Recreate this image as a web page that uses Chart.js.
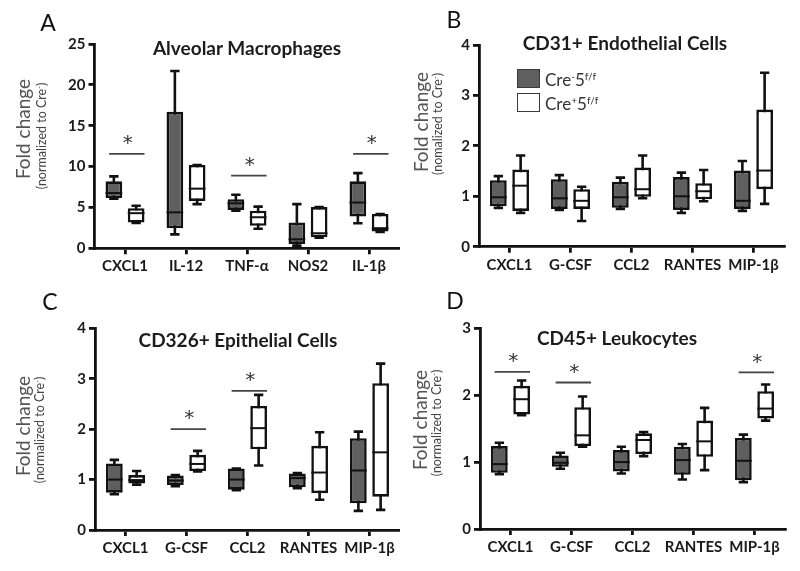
<!DOCTYPE html>
<html>
<head>
<meta charset="utf-8">
<script src="https://cdn.jsdelivr.net/npm/chart.js@4/dist/chart.umd.min.js"></script>
<style>
  body { margin: 0; background: #fff; font-family: Lato, "Open Sans", sans-serif; }
  #fig { position: relative; width: 800px; height: 571px; overflow: hidden; }
  canvas { position: absolute; }
  .t { position: absolute; transform: translate(-50%, -50%); white-space: nowrap; line-height: 1; }
  .letter { font-size: 23px; color: #111; }
  .title { font-size: 19px; font-weight: bold; color: #1c1c1c; }
  .ylab { position: absolute; transform: translate(-50%, -50%) rotate(-90deg); white-space: nowrap; line-height: 1; color: #555; }
  .ylab.big { font-size: 19px; }
  .ylab.small { font-size: 12.5px; color: #444; }
  sup { font-size: 0.6em; vertical-align: 0.55em; line-height: 0; }
  .sw { position: absolute; width: 21px; height: 17px; border: 1.5px solid #3a3a3a; }
  .leg { position: absolute; font-size: 17px; color: #333; line-height: 1; white-space: nowrap; }
</style>
</head>
<body>
<div id="fig">
  <canvas id="chartA" width="400" height="286" style="left:0;top:0"></canvas>
  <canvas id="chartB" width="400" height="286" style="left:400px;top:0"></canvas>
  <canvas id="chartC" width="400" height="286" style="left:0;top:285px"></canvas>
  <canvas id="chartD" width="400" height="286" style="left:400px;top:285px"></canvas>

  <div class="t letter" style="left:48px;top:22px">A</div>
  <div class="t letter" style="left:454px;top:19px">B</div>
  <div class="t letter" style="left:50px;top:301px">C</div>
  <div class="t letter" style="left:455px;top:300px">D</div>

  <div class="t title" style="left:247px;top:47px">Alveolar Macrophages</div>
  <div class="t title" style="left:625px;top:42px">CD31+ Endothelial Cells</div>
  <div class="t title" style="left:238px;top:339px">CD326+ Epithelial Cells</div>
  <div class="t title" style="left:617px;top:337px">CD45+ Leukocytes</div>

  <div class="ylab big" style="left:22px;top:129px">Fold change</div>
  <div class="ylab small" style="left:42px;top:136px">(normalized to Cre<sup>-</sup>)</div>
  <div class="ylab big" style="left:420px;top:122px">Fold change</div>
  <div class="ylab small" style="left:438px;top:124px">(nomalized to Cre<sup>-</sup>)</div>
  <div class="ylab big" style="left:22px;top:426px">Fold change</div>
  <div class="ylab small" style="left:40px;top:430px">(normalized to Cre<sup>-</sup>)</div>
  <div class="ylab big" style="left:419px;top:420px">Fold change</div>
  <div class="ylab small" style="left:437px;top:423px">(normalized to Cre<sup>-</sup>)</div>

  <div class="sw" style="left:517px;top:69px;background:#5f5f5f"></div>
  <div class="leg" style="left:545px;top:71px">Cre<sup>-</sup>5<sup>f/f</sup></div>
  <div class="sw" style="left:517px;top:93px;background:#fff"></div>
  <div class="leg" style="left:545px;top:95px">Cre<sup>+</sup>5<sup>f/f</sup></div>
</div>

<script>
const catsA = ['CXCL1', 'IL-12', 'TNF-\u03b1', 'NOS2', 'IL-1\u03b2'];
const catsBCD = ['CXCL1', 'G-CSF', 'CCL2', 'RANTES', 'MIP-1\u03b2'];

// each row: [min, q1, median, q3, max]
const aNeg = [[6.07, 6.15, 6.76, 8.2, 8.8], [1.7, 2.46, 4.4, 16.7, 21.7], [4.6, 4.7, 5.5, 6.0, 6.55], [0.33, 0.53, 1.1, 3.15, 5.4], [3.07, 3.9, 5.6, 8.2, 9.2]];
const aPos = [[3.1, 3.15, 4.3, 4.9, 5.2], [5.4, 5.8, 7.3, 10.2, 10.2], [2.4, 2.75, 3.8, 4.6, 5.1], [1.3, 1.35, 1.84, 5.04, 5.04], [2.0, 2.05, 2.46, 4.2, 4.2]];

const bNeg = [[0.77, 0.8, 0.98, 1.32, 1.4], [0.73, 0.75, 0.96, 1.34, 1.42], [0.75, 0.77, 0.98, 1.29, 1.37], [0.67, 0.73, 1.0, 1.38, 1.47], [0.71, 0.75, 0.91, 1.51, 1.7]];
const bPos = [[0.67, 0.71, 1.21, 1.53, 1.81], [0.51, 0.75, 0.91, 1.14, 1.19], [0.96, 0.99, 1.14, 1.57, 1.81], [0.9, 0.94, 1.1, 1.26, 1.52], [0.85, 1.14, 1.51, 2.72, 3.45]];

const cNeg = [[0.71, 0.74, 1.0, 1.32, 1.39], [0.87, 0.89, 0.98, 1.08, 1.09], [0.79, 0.8, 1.0, 1.22, 1.22], [0.83, 0.85, 1.03, 1.12, 1.13], [0.38, 0.53, 1.18, 1.82, 1.95]];
const cPos = [[0.9, 0.92, 0.99, 1.09, 1.17], [1.16, 1.17, 1.31, 1.49, 1.57], [1.28, 1.6, 2.02, 2.46, 2.68], [0.6, 0.73, 1.14, 1.67, 1.94], [0.4, 0.66, 1.54, 2.91, 3.3]];

const dNeg = [[0.82, 0.84, 0.97, 1.24, 1.29], [0.9, 0.93, 0.99, 1.1, 1.14], [0.83, 0.86, 1.0, 1.18, 1.23], [0.74, 0.81, 1.03, 1.23, 1.27], [0.7, 0.73, 1.02, 1.36, 1.41]];
const dPos = [[1.7, 1.71, 1.94, 2.14, 2.22], [1.23, 1.24, 1.4, 1.82, 1.98], [1.09, 1.12, 1.33, 1.43, 1.45], [0.88, 1.08, 1.31, 1.62, 1.81], [1.62, 1.65, 1.8, 2.06, 2.16]];

// significance bars: [category index, bar level]
const sigA = [[0, 11.55], [2, 8.9], [4, 11.55]];
const sigB = [];
const sigC = [[1, 2.0], [2, 2.76]];
const sigD = [[0, 2.35], [1, 2.19], [4, 2.34]];

const INK = '#111';

// whiskers go under the boxes, medians on top
const boxWhisker = {
  id: 'boxWhisker',
  beforeDatasetsDraw(chart) {
    const ctx = chart.ctx, y = chart.scales.y;
    ctx.save();
    ctx.strokeStyle = INK;
    ctx.lineWidth = 2.6;
    chart.data.datasets.forEach((ds, i) => {
      chart.getDatasetMeta(i).data.forEach((bar, j) => {
        const s = ds.stats[j];
        const cap = bar.width * 0.28;
        const yMin = y.getPixelForValue(s[0]), yMax = y.getPixelForValue(s[4]);
        ctx.beginPath();
        ctx.moveTo(bar.x, yMin); ctx.lineTo(bar.x, yMax);
        ctx.moveTo(bar.x - cap, yMin); ctx.lineTo(bar.x + cap, yMin);
        ctx.moveTo(bar.x - cap, yMax); ctx.lineTo(bar.x + cap, yMax);
        ctx.stroke();
      });
    });
    ctx.restore();
  },
  afterDatasetsDraw(chart) {
    const ctx = chart.ctx, y = chart.scales.y;
    ctx.save();
    ctx.strokeStyle = INK;
    ctx.lineWidth = 2;
    chart.data.datasets.forEach((ds, i) => {
      chart.getDatasetMeta(i).data.forEach((bar, j) => {
        const ym = y.getPixelForValue(ds.stats[j][2]);
        ctx.beginPath();
        ctx.moveTo(bar.x - bar.width / 2, ym);
        ctx.lineTo(bar.x + bar.width / 2, ym);
        ctx.stroke();
      });
    });
    ctx.restore();
  }
};

const sigMarks = {
  id: 'sigMarks',
  afterDraw(chart, args, opts) {
    const ctx = chart.ctx, x = chart.scales.x, y = chart.scales.y;
    ctx.save();
    (opts.marks || []).forEach(([idx, level]) => {
      const x1 = x.getPixelForValue(idx - 0.26);
      const x2 = x.getPixelForValue(idx + 0.32);
      const yy = y.getPixelForValue(level);
      ctx.strokeStyle = '#444';
      ctx.lineWidth = 1.8;
      ctx.beginPath();
      ctx.moveTo(x1, yy); ctx.lineTo(x2, yy);
      ctx.stroke();
      ctx.fillStyle = '#333';
      ctx.font = '20px "DejaVu Sans"';
      ctx.textAlign = 'center';
      ctx.textBaseline = 'middle';
      ctx.fillText('*', (x1 + x2) / 2 + 1, yy - 10);
    });
    ctx.restore();
  }
};

const tickFont = { family: 'Lato', weight: 'bold', size: 15 };

function makeChart(id, cats, neg, pos, yMax, yStep, sig, area) {
  const ctx = document.getElementById(id).getContext('2d');
  return new Chart(ctx, {
    type: 'bar',
    data: {
      labels: cats,
      datasets: [{
        label: 'Cre-5f/f',
        data: neg.map(r => [r[1], r[3]]),
        stats: neg,
        backgroundColor: '#5f5f5f',
        borderColor: INK,
        borderWidth: 2.6,
        borderSkipped: false
      }, {
        label: 'Cre+5f/f',
        data: pos.map(r => [r[1], r[3]]),
        stats: pos,
        backgroundColor: '#fff',
        borderColor: INK,
        borderWidth: 2.6,
        borderSkipped: false
      }]
    },
    options: {
      responsive: false,
      animation: false,
      devicePixelRatio: 1,
      categoryPercentage: 0.73,
      barPercentage: 0.75,
      layout: { padding: { left: 0, top: area.top, right: area.right, bottom: 0 } },
      plugins: {
        legend: { display: false },
        tooltip: { enabled: false },
        sigMarks: { marks: sig }
      },
      scales: {
        x: {
          grid: { offset: false, drawOnChartArea: false, tickLength: 6, color: INK, lineWidth: 2.8 },
          border: { color: INK, width: 2.8 },
          ticks: { color: '#1a1a1a', font: tickFont, padding: 3, maxRotation: 0, autoSkip: false },
          afterFit: s => { s.height = area.xh; }
        },
        y: {
          min: 0,
          max: yMax,
          grid: { drawOnChartArea: false, tickLength: 6, color: INK, lineWidth: 2.8 },
          border: { color: INK, width: 2.8 },
          ticks: { stepSize: yStep, color: '#1a1a1a', font: tickFont, padding: 3 },
          afterFit: s => { s.width = area.left; }
        }
      }
    },
    plugins: [boxWhisker, sigMarks]
  });
}

makeChart('chartA', catsA, aNeg, aPos, 25, 5, sigA, { left: 94.5, right: 0.5, top: 44, xh: 37.7 });
makeChart('chartB', catsBCD, bNeg, bPos, 4, 1, sigB, { left: 79, right: 16, top: 45, xh: 39.3 });
makeChart('chartC', catsBCD, cNeg, cPos, 4, 1, sigC, { left: 95, right: 0, top: 43.3, xh: 41 });
makeChart('chartD', catsBCD, dNeg, dPos, 3, 1, sigD, { left: 80, right: 15, top: 43.3, xh: 42 });
</script>
</body>
</html>
